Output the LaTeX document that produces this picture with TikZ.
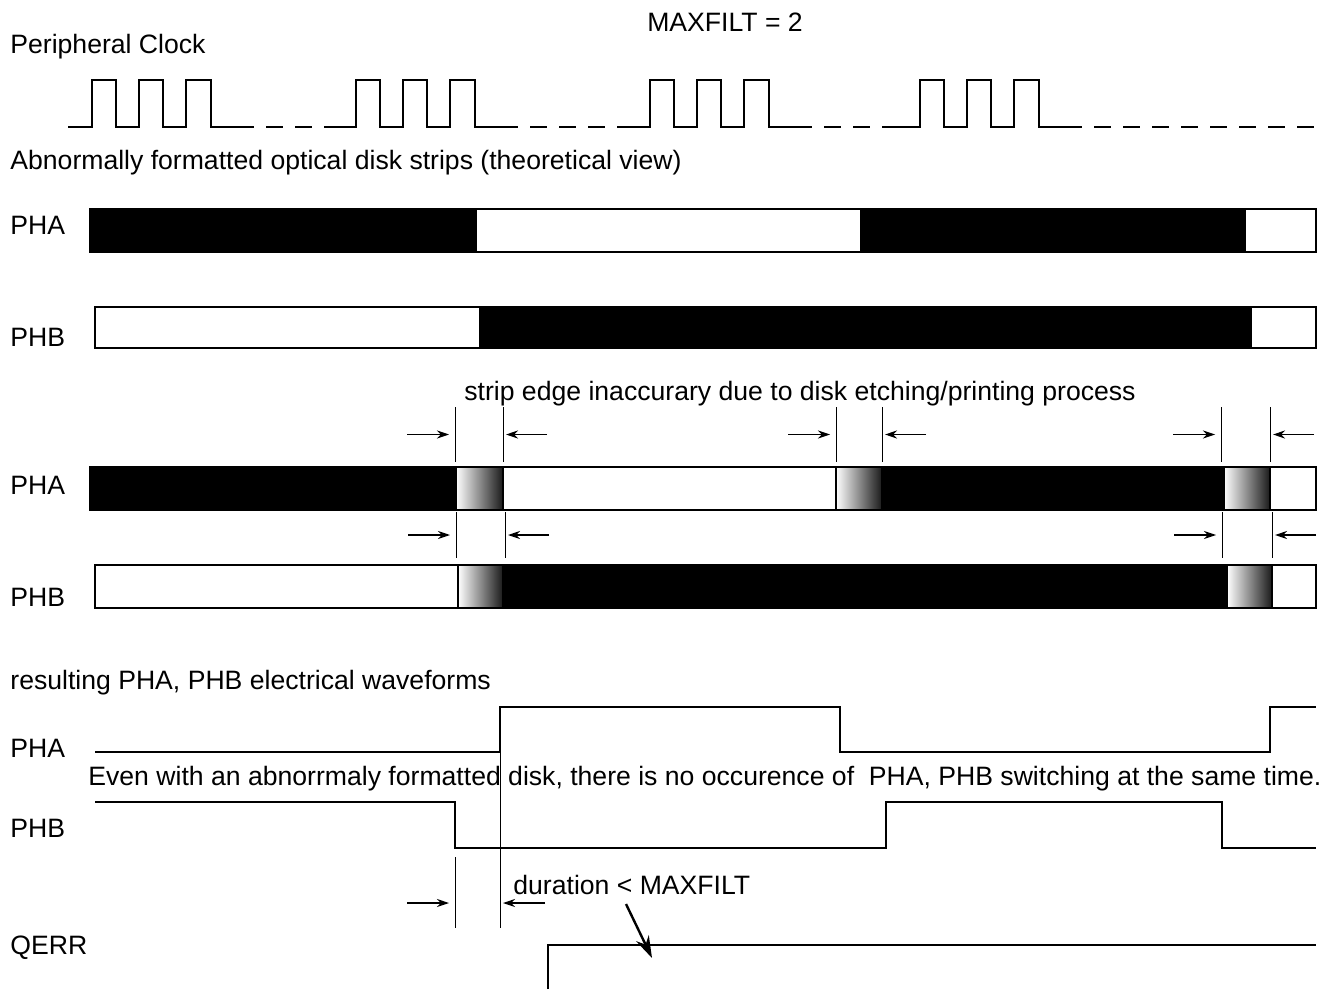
\documentclass[tikz,border=0pt]{standalone}
\usepackage{fontspec}
\setmainfont{Liberation Sans}
\usetikzlibrary{arrows.meta}

\begin{document}
\begin{tikzpicture}[x=0.5pt,y=-0.5pt,line join=miter,>={Stealth[length=6pt,width=4pt]},
  every node/.style={inner sep=0pt,font=\fontsize{13.3}{16}\selectfont},
  lbl/.style={anchor=west},
  wave/.style={line width=1.2pt},
  strip/.style={draw,line width=0.9pt},
  edge/.style={line width=0.5pt},
  gap/.style={->,line width=0.6pt}]
  \useasboundingbox (0,0) rectangle (1331,989);
  % titles
  \node (maxfilt) at (725,22) {MAXFILT = 2};
  \node[lbl] (clk) at (10,47) {Peripheral Clock};
  % peripheral clock, four bursts of three pulses
  \foreach \r in {92,356,650,920}
    \draw[wave] ({\r-24},127) -- (\r,127) -- (\r,80) -- ({\r+24},80) -- ({\r+24},127)
      -- ({\r+47},127) -- ({\r+47},80) -- ({\r+71},80) -- ({\r+71},127)
      -- ({\r+94},127) -- ({\r+94},80) -- ({\r+119},80) -- ({\r+119},127) -- ({\r+145},127);
  \foreach \a/\b in {237/332,501/626,795/896,1065/1318}
    \draw[wave,dash pattern=on 8.5pt off 6pt] (\a,127) -- (\b,127);
  \node[lbl] (theo) at (10,163) {Abnormally formatted optical disk strips (theoretical view)};
  % theoretical strips
  \node[lbl] (pha1) at (10,225) {PHA};
  \draw[strip,fill=white] (90,209) rectangle (1316,252);
  \fill (90,209) rectangle (477,252);
  \fill (860,209) rectangle (1246,252);
  \node[lbl] (phb1) at (10,337) {PHB};
  \draw[strip,fill=white] (95,307) rectangle (1316,348);
  \fill (479,307) rectangle (1252,348);
  % real strips with fuzzy edges
  \node (inacc) at (800,394) {strip edge inaccurary due to disk etching/printing process};
  \node[lbl] (pha2) at (10,485) {PHA};
  \draw[strip,fill=white] (90,467) rectangle (1316,510);
  \fill (90,467) rectangle (456,510);
  \fill (882,467) rectangle (1224,510);
  \foreach \a/\b in {456/503,836/882,1224/1270}
    \shade[strip,left color=white,right color=black!90] (\a,467) rectangle (\b,510);
  \node[lbl] (phb2) at (10,597) {PHB};
  \draw[strip,fill=white] (95,565) rectangle (1316,608);
  \fill (503,565) rectangle (1227,608);
  \foreach \a/\b in {458/503,1227/1272}
    \shade[strip,left color=white,right color=black!90] (\a,565) rectangle (\b,608);
  % edge tolerance markers
  \foreach \a/\b/\t/\u in {455/503/407/462,836/882/407/462,1221/1270/407/462,456/505/512/558,1222/1272/512/558}{
    \draw[edge] (\a,\t) -- (\a,\u);
    \draw[edge] (\b,\t) -- (\b,\u);
    \draw[gap] ({\a-48},{(\t+\u)/2}) -- ({\a-6},{(\t+\u)/2});
    \draw[gap] ({\b+44},{(\t+\u)/2}) -- ({\b+3},{(\t+\u)/2});
  }
  % electrical waveforms
  \node[lbl] (res) at (10,683) {resulting PHA, PHB electrical waveforms};
  \node[lbl] (pha3) at (10,748) {PHA};
  \draw[wave] (95,752) -- (500,752) -- (500,707) -- (840,707) -- (840,752)
    -- (1270,752) -- (1270,707) -- (1316,707);
  \node[lbl] (note) at (88,779) {Even with an abnorrmaly formatted disk, there is no occurence of \ PHA, PHB switching at the same time.};
  \node[lbl] (phb3) at (10,828) {PHB};
  \draw[wave] (95,802) -- (455,802) -- (455,848) -- (886,848) -- (886,802)
    -- (1222,802) -- (1222,848) -- (1316,848);
  \draw[edge] (500,752) -- (500,928);
  \draw[edge] (455,857) -- (455,928);
  \draw[gap] (407,903) -- (449,903);
  \draw[gap] (545,903) -- (503,903);
  \node[lbl] (dur) at (513,885) {duration < MAXFILT};
  \node[lbl] (qerr) at (10,948) {QERR};
  \draw[wave] (548,989) -- (548,945) -- (1316,945);
  \draw[line width=1.2pt,-{Stealth[length=11pt,width=7pt]}] (626,904) -- (652,958);
\end{tikzpicture}
\end{document}
